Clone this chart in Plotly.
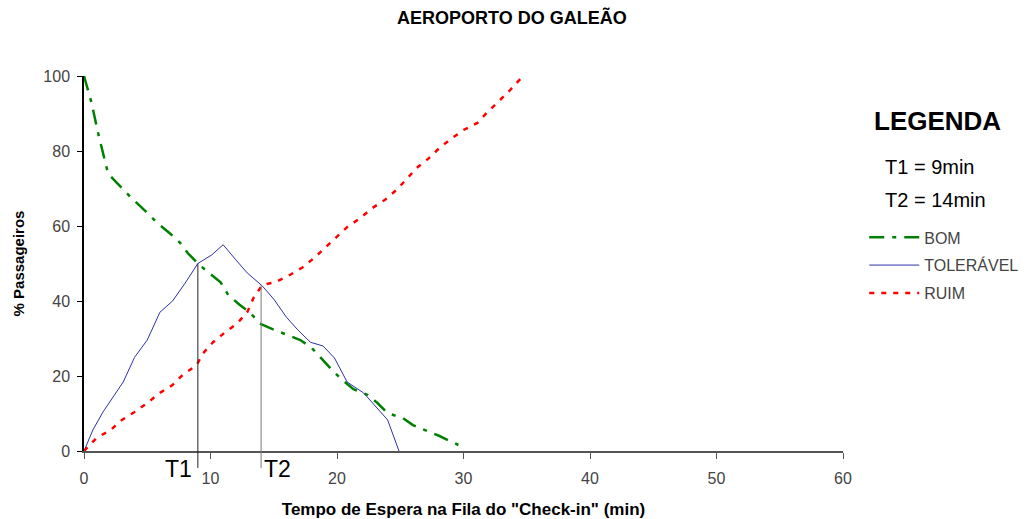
import plotly.graph_objects as go

# Tempo de espera (min) x % passageiros
bom_x = [0, 0.6, 1.1, 1.9, 2.6, 3.6, 5.0, 5.8, 6.8, 7.6, 8.2, 9.0, 9.7, 10.8, 11.4, 12.3,
         13.1, 13.9, 14.9, 16.0, 17.1, 18.0, 18.7, 19.6, 20.4, 21.3, 22.4, 23.2, 24.0,
         25.2, 26.0, 27.4, 28.1, 29.6]
bom_y = [100, 92.8, 85, 74, 71.5, 68, 63.5, 60.8, 58, 55.5, 52.8, 50, 48, 45, 41.6, 39,
         37, 34, 32.5, 31, 29.6, 27.5, 24.8, 21.6, 19, 16.5, 15, 12.8, 10.1,
         8.8, 6.9, 5.1, 4, 1.6]

tol_x = [0, 0.7, 1.5, 2.3, 3.1, 4.0, 5.0, 6.0, 7.0, 8.0, 9.0, 10.1, 11.0, 12.0, 12.9,
         14.1, 15.0, 16.0, 16.9, 17.9, 18.9, 19.8, 20.8, 22.1, 22.8, 24.0, 24.9]
tol_y = [0, 5.6, 10.4, 14.4, 18.4, 25, 29.6, 37, 40, 44.8, 50, 52.3, 55, 51, 47.5,
         44, 40.5, 35.7, 32.3, 29, 28, 24.8, 18.4, 15.5, 12.8, 8.3, 0]

ruim_x = [0, 1.0, 2.1, 3.0, 4.0, 5.0, 6.0, 7.0, 7.8, 8.9, 9.4, 10.2, 11.1, 12.1, 12.9,
          13.4, 14.1, 15.1, 16.3, 17.3, 18.2, 19.1, 19.9, 20.8, 21.8, 22.8, 23.8, 24.7,
          25.5, 26.3, 27.2, 28.1, 29.0, 30.0, 31.1, 31.9, 32.8, 33.7, 34.7]
ruim_y = [0, 3.5, 5.6, 8.3, 10.4, 12.8, 15.5, 17.6, 20.3, 22.9, 26, 29, 31.5, 34, 37,
          40.8, 44.3, 45, 47, 49, 51.5, 54.4, 57, 59.7, 62, 64.8, 67, 69.6,
          72.5, 75.5, 77.9, 80.8, 83.2, 85.6, 87.5, 90.4, 93.3, 96.3, 100]

# limites T1 / T2
t_names = ["T1", "T2"]
t_values = [9, 14]
t_tops = [50, 44.3]

FONT = "Arial, Liberation Sans, sans-serif"

fig = go.Figure()

fig.add_trace(go.Scatter(
    x=bom_x, y=bom_y, name="BOM", mode="lines", legendgroup="bom",
    line=dict(color="#008000", width=2.5, dash="15px,8px,4px,8px")
))
fig.add_trace(go.Scatter(
    x=tol_x, y=tol_y, name="TOLERÁVEL", mode="lines", legendgroup="tol",
    line=dict(color="#3030a8", width=1)
))
fig.add_trace(go.Scatter(
    x=ruim_x, y=ruim_y, name="RUIM", mode="lines", legendgroup="ruim",
    line=dict(color="#ff0000", width=2.5, dash="5px,7px")
))

# linhas verticais de T1 e T2 (acima e abaixo do eixo)
for name, tv, top, col, side in zip(t_names, t_values, t_tops, ["#222", "#777"], ["right", "left"]):
    fig.add_shape(type="line", xref="x", yref="y", x0=tv, x1=tv, y0=0, y1=top,
                  line=dict(color=col, width=1))
    fig.add_shape(type="line", xref="x", yref="paper", x0=tv, x1=tv, y0=-0.045, y1=0,
                  line=dict(color=col, width=1))
    fig.add_annotation(x=tv, y=0, xref="x", yref="paper", text=name, showarrow=False,
                       xanchor=side, yanchor="top", xshift=-4 if side == "right" else 1,
                       yshift=-3, font=dict(family=FONT, size=23, color="black"))

# bloco da legenda
fig.add_annotation(x=1.038, y=0.88, xref="paper", yref="paper", text="<b>LEGENDA</b>",
                   showarrow=False, xanchor="left", yanchor="middle",
                   font=dict(family=FONT, size=26, color="black"))
fig.add_annotation(x=1.053, y=0.757, xref="paper", yref="paper", text="T1 = 9min",
                   showarrow=False, xanchor="left", yanchor="middle",
                   font=dict(family=FONT, size=20, color="black"))
fig.add_annotation(x=1.053, y=0.669, xref="paper", yref="paper", text="T2 = 14min",
                   showarrow=False, xanchor="left", yanchor="middle",
                   font=dict(family=FONT, size=20, color="black"))

fig.update_xaxes(
    range=[0, 60], dtick=10, tick0=0, showgrid=False, zeroline=False, automargin=False,
    showline=True, linecolor="#555", linewidth=1.5,
    ticks="outside", ticklen=6, tickcolor="#555", ticklabelstandoff=6,
    tickfont=dict(family=FONT, size=16, color="#444"),
    title=dict(text="<b>Tempo de Espera na Fila do \"Check-in\" (min)</b>",
               font=dict(family=FONT, size=17, color="black"), standoff=20)
)
fig.update_yaxes(
    range=[0, 100], dtick=20, tick0=0, showgrid=False, zeroline=False, automargin=False,
    showline=True, linecolor="black", linewidth=1.5,
    ticks="outside", ticklen=5, tickcolor="black", ticklabelstandoff=4,
    tickfont=dict(family=FONT, size=16, color="#444"),
    title=dict(text="<b>% Passageiros</b>",
               font=dict(family=FONT, size=15, color="black"), standoff=15)
)

fig.update_layout(
    width=1034, height=519,
    margin=dict(l=84, r=191, t=76, b=68, autoexpand=False),
    paper_bgcolor="white", plot_bgcolor="white",
    title=dict(text="<b>AEROPORTO DO GALEÃO</b>", x=0.495, xanchor="center",
               y=0.965, yanchor="middle", font=dict(family=FONT, size=18, color="black")),
    showlegend=True,
    legend=dict(x=1.028, y=0.615, xanchor="left", yanchor="top",
                font=dict(family=FONT, size=16, color="#444"),
                tracegroupgap=4, bgcolor="rgba(0,0,0,0)", itemwidth=50),
    hovermode=False
)

fig.write_html("out.html", config={"displayModeBar": False},
               post_script="document.body.style.margin='0';")
